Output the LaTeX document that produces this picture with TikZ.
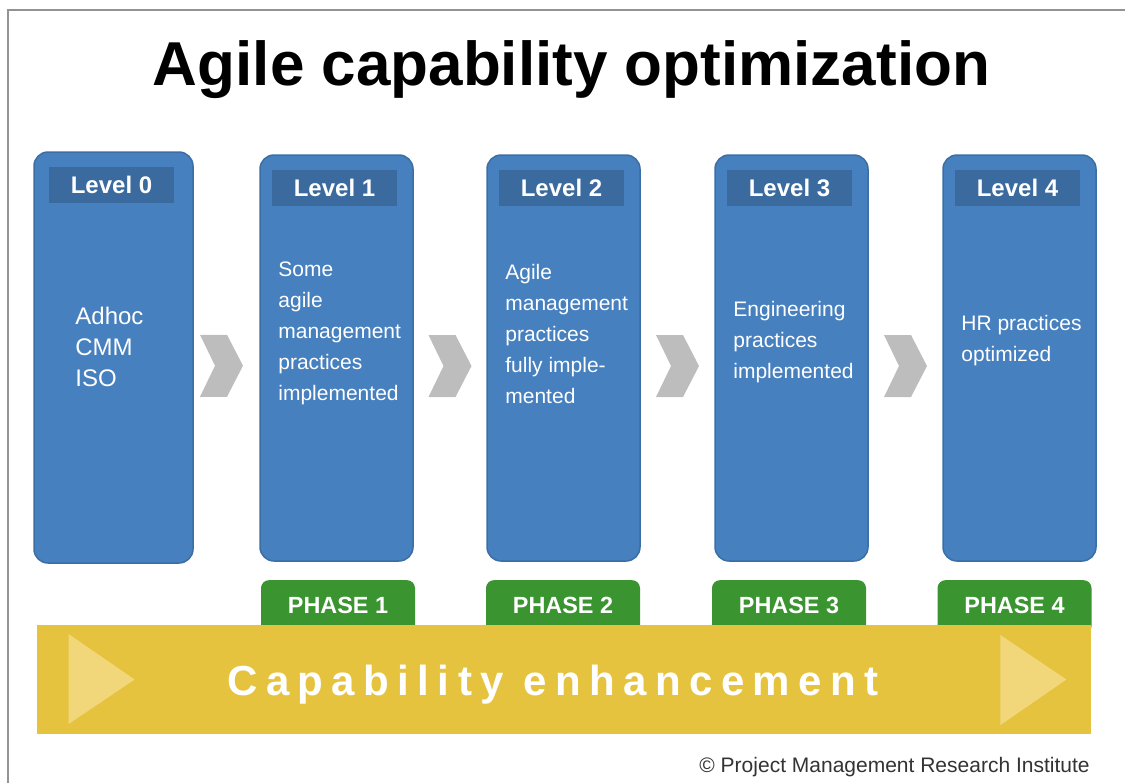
\documentclass[tikz,border=0pt]{standalone}
\usepackage{fontspec}
\setmainfont{Liberation Sans}
\newfontfamily\bandfont[LetterSpace=20]{Liberation Sans}
\usetikzlibrary{calc,positioning}

\definecolor{lvlblue}{HTML}{4680BE}
\definecolor{lvledge}{HTML}{3B6EA5}
\definecolor{lvlhead}{HTML}{3A6A9E}
\definecolor{phasegreen}{HTML}{3A9430}
\definecolor{bandyellow}{HTML}{E5C33F}
\definecolor{bandlight}{HTML}{F2D77A}
\definecolor{chevgray}{HTML}{BDBDBD}

\tikzset{
 levelbox/.style={draw=lvledge,fill=lvlblue,line width=.75pt,rounded corners=7pt,inner sep=0pt},
 levelhead/.style={fill=lvlhead,text=white,font=\fontsize{12}{14}\selectfont\bfseries,
  minimum width=62.5pt,minimum height=18pt,inner sep=0pt},
 leveltext/.style={text=white,font=\fontsize{10.5}{15.5}\selectfont,align=left,anchor=west,inner sep=0pt},
 phasetab/.style={fill=phasegreen,text=white,font=\fontsize{11.7}{14}\selectfont\bfseries,rounded corners=4pt,
  minimum width=77pt,minimum height=27pt,inner sep=0pt,text height=8.4pt,text depth=2pt},
}

\begin{document}
\begin{tikzpicture}[x=.5pt,y=-.5pt]
\useasboundingbox (0,0) rectangle (1125,783);
\draw[gray!85,line width=1pt] (8,783) -- (8,10) -- (1125,10);
\node[anchor=base,font=\fontsize{31}{36}\selectfont\bfseries] (title) at (571.5,85) {Agile capability optimization};

% levels
\foreach \b/\cx/\cy/\w/\h/\lbl in {lvl0/113.5/357.5/79.5/205.5/Level 0,lvl1/336.5/358/76.5/203/Level 1,
 lvl2/563.5/358/76.5/203/Level 2,lvl3/791.5/358/76.5/203/Level 3,lvl4/1019.5/358/76.5/203/Level 4}{
 \node[levelbox,minimum width=\w pt,minimum height=\h pt] (\b) at (\cx,\cy) {};
 \node[levelhead,below=7.5pt of \b.north,xshift=-1pt] (head\b) {\lbl};
}
\node[leveltext,font=\fontsize{12}{15.5}\selectfont] (txtlvl0) at (75,347) {Adhoc\\CMM\\ISO};
\foreach \b/\tx/\ty/\body in {lvl1/278/333.5/{Some\\agile\\management\\practices\\implemented},
 lvl2/505/333.5/{Agile\\management\\practices\\fully imple-\\mented},
 lvl3/733/342/{Engineering\\practices\\implemented},lvl4/961/340.5/{HR practices\\optimized}}{
 \node[leveltext] (txt\b) at (\tx,\ty) {\body};
}

% chevrons between levels
\foreach \a/\b/\dx in {lvl0/lvl1/-5,lvl1/lvl2/0,lvl2/lvl3/0,lvl3/lvl4/0}{
 \coordinate (m\a) at ($(\a.east)!.5!(\b.west)+(\dx,8)$);
 \fill[chevgray,shift={(m\a)}] (-21.5,-31) -- (5.5,-31) -- (21.5,0) -- (5.5,31) -- (-21.5,31) -- (-6.5,0) -- cycle;
}

% phases
\foreach \b/\n/\dx in {lvl1/1/.75,lvl2/2/-.25,lvl3/3/-1.25,lvl4/4/-2.5}{
 \node[phasetab,below=9pt of \b.south,xshift=\dx pt] (ph\n) {PHASE \n};
}

\node[fill=bandyellow,minimum width=527pt,minimum height=54.5pt,inner sep=0pt] (band) at (564,679.5) {};
\fill[bandlight,shift={(band.west)}] (32,-45.5) -- (32,44.5) -- (98,0) -- cycle;
\fill[bandlight,shift={(band.east)}] (-91,-44.5) -- (-91,45.5) -- (-25,0) -- cycle;
\node[anchor=base,text=white,font=\bandfont\fontsize{21}{25}\selectfont\bfseries] (bandtxt) at (553,695) {Capability enhancement};

\node[anchor=base east,inner sep=0pt,font=\fontsize{10.5}{12}\selectfont,text=black!80] (credit) at (1090,772) {© Project Management Research Institute};
\end{tikzpicture}
\end{document}
